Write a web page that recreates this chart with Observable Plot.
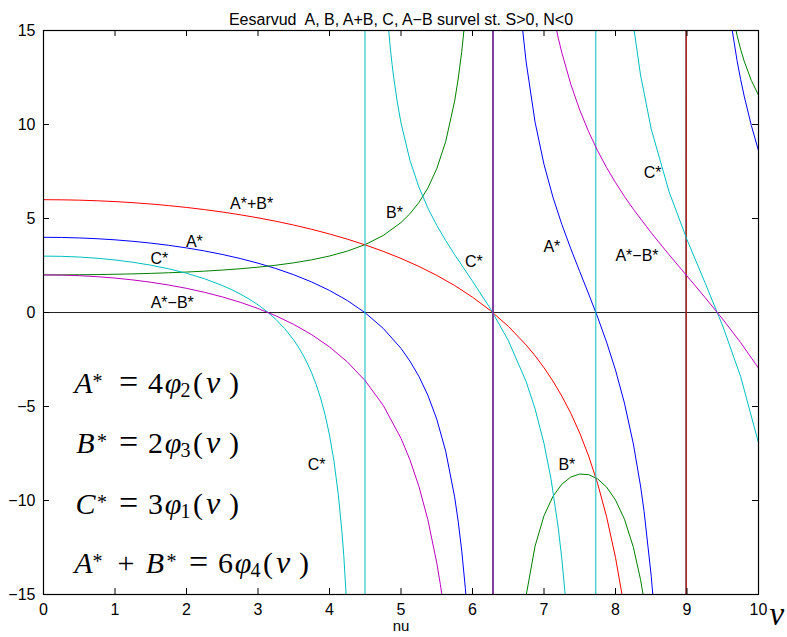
<!DOCTYPE html>
<html>
<head>
<meta charset="utf-8">
<script src="https://cdn.jsdelivr.net/npm/d3@7"></script>
<script src="https://cdn.jsdelivr.net/npm/@observablehq/plot@0.6"></script>
<style>
  html, body { margin: 0; padding: 0; background: #fff; }
</style>
</head>
<body>
<div id="chart"></div>
<script>
// Stiffness coefficients of a compressed bar (S > 0, N < 0) as functions of ν.
// Each series is a list of [ν, value] pairs. Values next to the poles are very
// large; the frame clips them, so the jump across a pole shows as a vertical line.

const aStar = [
  [0,4],[0.25,3.9917],[0.5,3.9666],[0.75,3.9244],[1,3.8649],[1.25,3.7873],[1.5,3.6907],
  [1.75,3.5742],[2,3.4361],[2.25,3.2748],[2.5,3.0879],[2.75,2.8723],[3,2.6242],[3.25,2.3385],
  [3.5,2.0084],[3.75,1.6243],[4,1.1731],[4.25,0.6353],[4.5,-0.0191],[4.75,-0.8387],[5,-1.9087],
  [5.125,-2.5841],[5.25,-3.3952],[5.375,-4.3957],[5.5,-5.6726],[5.625,-7.3789],[5.75,-9.8065],
  [5.8,-11.111],[5.85,-12.694],[5.9,-14.672],[5.95,-17.219],[6,-20.64],[6.25,-188.3],[6.28,-1971.5],
  [6.29,923.0],[6.5,29.50],[6.6,20.10],[6.7,15.08],[6.75,13.33],[6.875,10.126],[7,7.876],
  [7.125,6.134],[7.25,4.680],[7.375,3.388],[7.5,2.176],[7.625,0.981],[7.75,-0.249],[7.875,-1.574],
  [8,-3.063],[8.125,-4.818],[8.25,-6.997],[8.35,-9.228],[8.4,-10.584],[8.5,-14.033],[8.55,-16.296],
  [8.75,-34.26],[8.98,-1315],
  [8.995,1101.5],[9.25,36.37],[9.5,18.96],[9.6,15.79],[9.7,13.40],[9.75,12.40],[9.8,11.51],
  [9.9,9.945],[10,8.605]
];

const bStar = [
  [0,2],[0.25,2.0021],[0.5,2.0084],[0.75,2.0191],[1,2.0344],[1.25,2.0547],[1.5,2.0806],
  [1.75,2.1127],[2,2.1519],[2.25,2.1996],[2.5,2.2572],[2.75,2.3269],[3,2.4115],[3.25,2.5149],
  [3.5,2.6424],[3.75,2.8016],[4,3.0037],[4.25,3.2656],[4.5,3.6140],[4.75,4.0935],[5,4.7845],
  [5.125,5.2539],[5.25,5.8469],[5.375,6.6161],[5.5,7.6472],[5.625,9.0919],[5.75,11.241],
  [5.8,12.428],[5.85,13.891],[5.9,15.745],[6,21.45],[6.25,188.4],[6.28,1971.5],
  [6.29,-923.0],[6.5,-30.23],[6.6,-21.21],[6.7,-16.60],[6.75,-15.06],[6.875,-12.426],[7,-10.812],
  [7.125,-9.782],[7.25,-9.131],[7.375,-8.752],[7.5,-8.592],[7.625,-8.625],[7.75,-8.850],
  [7.875,-9.285],[8,-9.973],[8.125,-10.993],[8.25,-12.490],[8.35,-14.203],[8.4,-15.309],
  [8.5,-18.27],[8.75,-37.33],[8.98,-1317],
  [8.995,1099.5],[9.25,35.56],[9.5,19.32],[9.6,16.63],[9.7,14.74],[9.75,14.00],[9.8,13.37],
  [9.9,12.34],[10,11.56]
];

const aPlusB = [
  [0,6],[0.25,5.9938],[0.5,5.9750],[0.75,5.9435],[1,5.8993],[1.25,5.8420],[1.5,5.7713],
  [1.75,5.6868],[2,5.5880],[2.25,5.4744],[2.5,5.3451],[2.75,5.1991],[3,5.0357],[3.25,4.8534],
  [3.5,4.6507],[3.75,4.4259],[4,4.1769],[4.25,3.9009],[4.5,3.5949],[4.75,3.2548],[5,2.8758],
  [5.25,2.4517],[5.5,1.9746],[5.75,1.4345],[6,0.8165],[6.25,0.1032],[6.5,-0.7319],[6.75,-1.7266],
  [6.875,-2.2999],[7,-2.9364],[7.125,-3.6480],[7.25,-4.4504],[7.375,-5.3639],[7.5,-6.4159],
  [7.625,-7.6435],[7.75,-9.0992],[7.875,-10.859],[8,-13.036],[8.1,-15.196],[8.25,-19.49],
  [8.5,-32.30],[8.75,-71.59],[8.98,-2632],
  [8.995,2201],[9.25,71.93],[9.5,38.28],[9.75,26.41],[10,20.17]
];

const cStar = [
  [0,3],[0.25,2.9875],[0.5,2.9497],[0.75,2.8857],[1,2.7940],[1.25,2.6725],[1.5,2.5178],
  [1.75,2.3254],[2,2.0884],[2.25,1.7974],[2.5,1.4379],[2.625,1.2259],[2.75,0.9873],[2.875,0.7173],
  [3,0.4083],[3.125,0.0516],[3.25,-0.3660],[3.375,-0.8633],[3.5,-1.4682],[3.5625,-1.8240],
  [3.625,-2.2252],[3.6875,-2.6819],[3.75,-3.2079],[3.8125,-3.8218],[3.875,-4.5496],
  [3.9375,-5.4293],[4,-6.5179],[4.0625,-7.9056],[4.125,-9.7436],[4.175,-11.716],[4.2,-12.947],
  [4.25,-16.152],[4.275,-18.295],[4.49,-1316],
  [4.5,683.8],[4.625,35.97],[4.75,19.14],[4.8,16.207],[4.85,14.071],[4.875,13.205],[4.9,12.439],
  [4.95,11.143],[5,10.084],[5.125,8.098],[5.25,6.674],[5.375,5.562],[5.5,4.636],[5.625,3.824],
  [5.75,3.078],[6,1.665],[6.25,0.206],[6.5,-1.482],[6.75,-3.676],[6.875,-5.122],[7,-6.968],
  [7.1,-8.895],[7.2,-11.472],[7.25,-13.132],[7.3,-15.158],[7.5,-31.75],[7.72,-1469],
  [7.73,1628.7],[7.75,314.1],[7.8,105.16],[7.9,45.76],[8,29.41],[8.1,21.63],[8.2,16.996],
  [8.25,15.297],[8.35,12.634],[8.5,9.752],[8.75,6.414],[9,3.876],[9.25,1.603],[9.5,-0.722],
  [9.75,-3.405],[10,-6.933]
];

const aMinusB = [
  [0,2],[0.25,1.9896],[0.5,1.9582],[0.75,1.9054],[1,1.8305],[1.25,1.7326],[1.5,1.6101],
  [1.75,1.4615],[2,1.2842],[2.25,1.0752],[2.5,0.8307],[2.75,0.5454],[3,0.2127],[3.25,-0.1763],
  [3.5,-0.6340],[3.75,-1.1773],[4,-1.8306],[4.25,-2.6303],[4.5,-3.6331],[4.75,-4.9321],
  [5,-6.6932],[5.125,-7.8379],[5.25,-9.2421],[5.375,-11.012],[5.5,-13.320],[5.55,-14.455],
  [5.6,-15.751],[5.75,-21.05],[6,-42.09],[6.25,-376.6],[6.28,-3943],
  [6.29,1846],[6.5,59.72],[6.75,28.39],[6.875,22.55],[7,18.687],[7.125,15.916],[7.15,15.451],
  [7.2,14.591],[7.25,13.811],[7.375,12.140],[7.5,10.767],[7.625,9.607],[7.75,8.601],
  [7.875,7.711],[8,6.910],[8.125,6.175],[8.25,5.493],[8.5,4.237],[8.75,3.070],[9,1.941],
  [9.25,0.810],[9.5,-0.357],[9.75,-1.600],[10,-2.958]
];

const xTicks = [0, 1, 2, 3, 4, 5, 6, 7, 8, 9, 10];
const yTicks = [-15, -10, -5, 0, 5, 10, 15];

const titleText = "Eesarvud\u00a0 A, B, A+B, C, A\u2212B survel st. S>0, N<0";
const xLabel = "nu";
const xSymbol = "\u03bd";

// Curve captions placed beside their lines
const curveLabels = [
  {label: "A*+B*", nu: 2.91, value: 5.80},
  {label: "A*", nu: 2.11, value: 3.78},
  {label: "C*", nu: 1.62, value: 2.87},
  {label: "A*\u2212B*", nu: 1.80, value: 0.53},
  {label: "B*", nu: 4.91, value: 5.32},
  {label: "C*", nu: 6.02, value: 2.71},
  {label: "A*", nu: 7.11, value: 3.51},
  {label: "A*\u2212B*", nu: 8.30, value: 3.03},
  {label: "C*", nu: 8.52, value: 7.45},
  {label: "C*", nu: 3.82, value: -8.09},
  {label: "B*", nu: 7.32, value: -8.09}
];

// Definitions shown in the lower left: starred letters, factor and φ index
const eqLeft = [["A"], ["B"], ["C"], ["A", "B"]];
const eqFactor = ["4", "2", "3", "6"];
const eqPhiIndex = ["2", "3", "1", "4"];

const series = [
  {points: aStar, color: "#0000ff"},
  {points: bStar, color: "#008000"},
  {points: aPlusB, color: "#ff0000"},
  {points: cStar, color: "#00bfbf"},
  {points: aMinusB, color: "#bf00bf"}
];

const W = 787, H = 637;
const mTop = 30, mRight = 29, mBottom = 43, mLeft = 43;
const frameW = W - mLeft - mRight, frameH = H - mTop - mBottom;
const tickLen = 6;
const sans = "'Liberation Sans', Arial, Helvetica, sans-serif";
const serif = "'Liberation Serif', 'Times New Roman', serif";

const chart = Plot.plot({
  width: W,
  height: H,
  marginTop: mTop,
  marginRight: mRight,
  marginBottom: mBottom,
  marginLeft: mLeft,
  style: {fontFamily: sans, fontSize: "16px", background: "white", color: "black"},
  x: {domain: [0, 10], ticks: xTicks, tickSize: 0, tickPadding: 9, label: null},
  y: {domain: [-15, 15], ticks: yTicks, tickSize: 0, tickPadding: 8, label: null},
  marks: [
    Plot.ruleY([0], {stroke: "#222", strokeWidth: 1}),
    ...series.map(s => Plot.line(s.points, {
      x: d => d[0], y: d => d[1], stroke: s.color, strokeWidth: 1, clip: true
    })),
    Plot.text(curveLabels, {x: "nu", y: "value", text: "label", fontSize: 16, fill: "black"}),
    Plot.text([titleText], {frameAnchor: "top", dy: -17, fontSize: 16, fill: "black"}),
    Plot.text([xLabel], {frameAnchor: "bottom", dy: 36, fontSize: 15, fill: "black"}),
    Plot.text([xSymbol], {
      frameAnchor: "bottom-right", textAnchor: "start", lineAnchor: "middle",
      dx: 11, dy: 20, fontSize: 33, fontStyle: "italic", fontFamily: serif, fill: "black"
    }),
    Plot.frame({stroke: "black", strokeWidth: 1.2}),
    // inward ticks on all four sides
    Plot.ruleX(xTicks, {insetTop: frameH - tickLen, stroke: "black"}),
    Plot.ruleX(xTicks, {insetBottom: frameH - tickLen, stroke: "black"}),
    Plot.ruleY(yTicks, {insetRight: frameW - tickLen, stroke: "black"}),
    Plot.ruleY(yTicks, {insetLeft: frameW - tickLen, stroke: "black"})
  ]
});

document.getElementById("chart").appendChild(chart);

// Typeset formulas in the lower-left corner
const eqG = d3.select(chart).append("g")
  .attr("font-family", serif)
  .attr("text-anchor", "middle")
  .attr("fill", "black");

function put(text, x, y, size, italic) {
  eqG.append("text")
    .attr("x", x).attr("y", y)
    .attr("font-size", size)
    .attr("font-style", italic ? "italic" : "normal")
    .text(text);
}

const eqX = 73;
const eqBaselines = [393, 453, 514, 573];
eqLeft.forEach((letters, i) => {
  const y = eqBaselines[i];
  letters.forEach((letter, j) => {
    if (j === 0) {
      const wide = letter !== "A";
      put(letter, eqX + (wide ? 12.5 : 10.5), y, 30, true);
      put("*", eqX + (wide ? 29 : 24.5), y - 5, 20, false);
    } else {
      put("+", eqX + 53, y, 30, false);
      put(letter, eqX + 82, y, 30, true);
      put("*", eqX + 98.5, y - 5, 20, false);
    }
  });
  const s = eqX + (letters.length - 1) * 70;
  put("=", s + 55.5, y, 34, false);
  put(eqFactor[i], s + 82.5, y, 30, false);
  put("\u03c6", s + 100, y, 30, true);
  put(eqPhiIndex[i], s + 112.5, y + 4, 20, false);
  put("(", s + 125, y, 30, false);
  put("\u03bd", s + 140, y, 32, true);
  put(")", s + 161, y, 30, false);
});
</script>
</body>
</html>
